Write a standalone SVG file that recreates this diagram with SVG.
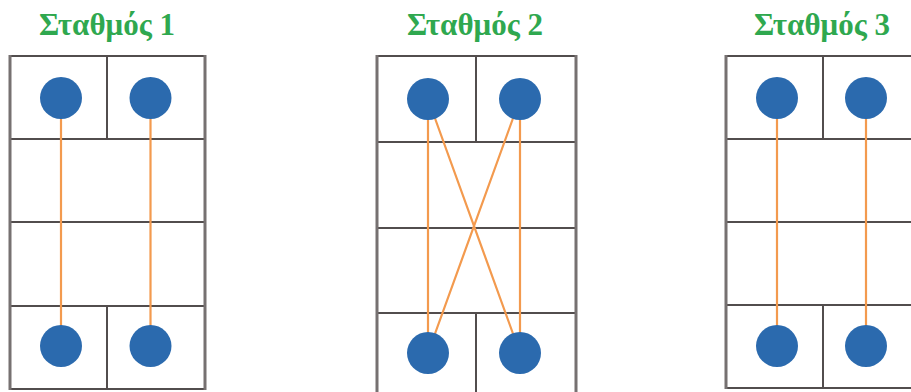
<svg xmlns="http://www.w3.org/2000/svg" width="911" height="392" viewBox="0 0 911 392">
<style>
.title{font-family:"Liberation Serif","DejaVu Serif",serif;font-weight:bold;font-size:31px;fill:#2fa84f;text-anchor:middle}
.grid{fill:none;stroke:#524d4d;stroke-width:2}
.edge{fill:none;stroke:#767171;stroke-width:3}
.link{stroke:#f39a4e;stroke-width:2.2;fill:none}
.dot{fill:#2b6aae}
</style>
<rect width="911" height="392" fill="#ffffff"/>
<text class="title" x="107" y="35">Σταθμός 1</text>
<text class="title" x="475" y="35">Σταθμός 2</text>
<text class="title" x="822" y="35">Σταθμός 3</text>

<g id="grid1">
<path class="grid" d="M10 56H205M10 139H205M10 222H205M10 306H205M10 389H205M107 56V139M107 306V389"/>
<path class="edge" d="M10 55V390M205 55V390"/>
</g>
<g id="grid2">
<path class="grid" d="M377 56H576M377 142H576M377 228H576M377 313H576M476 56V142M476 313V400"/>
<path class="edge" d="M377 55V400M576 55V400"/>
</g>
<g id="grid3">
<path class="grid" d="M726 56H925M726 139H925M726 222H925M726 305H925M726 388H925M823 56V139M823 305V388"/>
<path class="edge" d="M726 55V389"/>
</g>

<g id="connectors">
<path class="link" d="M61 98V346M150.5 98V346"/>
<path class="link" d="M428 99V353M520 99V353M428 99L520 353M520 99L428 353"/>
<path class="link" d="M777 98V346M866 98V346"/>
</g>

<g id="n1a"><circle class="dot" cx="61" cy="98" r="21"/></g>
<g id="n1b"><circle class="dot" cx="150.5" cy="98" r="21"/></g>
<g id="n1c"><circle class="dot" cx="61" cy="346" r="21"/></g>
<g id="n1d"><circle class="dot" cx="150.5" cy="346" r="21"/></g>
<g id="n2a"><circle class="dot" cx="428" cy="99" r="21"/></g>
<g id="n2b"><circle class="dot" cx="520" cy="99" r="21"/></g>
<g id="n2c"><circle class="dot" cx="428" cy="353" r="21"/></g>
<g id="n2d"><circle class="dot" cx="520" cy="353" r="21"/></g>
<g id="n3a"><circle class="dot" cx="777" cy="98" r="21"/></g>
<g id="n3b"><circle class="dot" cx="866" cy="98" r="21"/></g>
<g id="n3c"><circle class="dot" cx="777" cy="346" r="21"/></g>
<g id="n3d"><circle class="dot" cx="866" cy="346" r="21"/></g>
</svg>
